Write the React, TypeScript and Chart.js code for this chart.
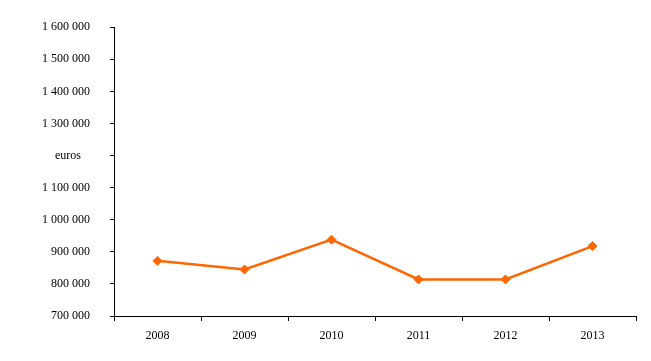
import React, { useEffect, useRef } from "react";
import { Chart, registerables } from "chart.js";

Chart.register(...registerables);

const years = ["2008", "2009", "2010", "2011", "2012", "2013"];
const amounts = [872000, 845000, 938000, 814000, 814000, 918000];
const yMin = 700000;
const yMax = 1600000;
const yStep = 100000;
const unitTickValue = 1200000;
const unitLabel = "euros";

function fmt(v: number): string {
  return String(Math.round(v)).replace(/\B(?=(\d{3})+(?!\d))/g, " ");
}

export default function App() {
  const ref = useRef<HTMLCanvasElement | null>(null);
  useEffect(() => {
    if (!ref.current) return;
    const font = { family: "'Liberation Serif', 'Times New Roman', serif", size: 12 };
    const chart = new Chart(ref.current, {
      type: "line",
      data: {
        labels: years,
        datasets: [
          {
            data: amounts,
            borderColor: "#FF6600",
            backgroundColor: "#FF6600",
            borderWidth: 2.5,
            pointStyle: "rectRot",
            pointRadius: 4.5,
            pointBorderWidth: 1,
            tension: 0,
          },
        ],
      },
      options: {
        animation: false,
        responsive: false,
        maintainAspectRatio: false,
        layout: { padding: { top: 26, right: 15, left: 0, bottom: 0 } },
        plugins: { legend: { display: false }, tooltip: { enabled: false } },
        scales: {
          x: {
            offset: true,
            grid: { offset: true, drawOnChartArea: false, tickLength: 5, color: "#000" },
            border: { color: "#000", width: 1 },
            ticks: { color: "#000", font, padding: 8 },
            afterFit: (s: any) => {
              s.height = 45;
            },
          },
          y: {
            min: yMin,
            max: yMax,
            grid: { drawOnChartArea: false, tickLength: 4, color: "#000" },
            border: { color: "#000", width: 1 },
            ticks: {
              stepSize: yStep,
              color: "#000",
              font,
              padding: 20,
              callback: (v: any) => (Number(v) === unitTickValue ? unitLabel + "   " : fmt(Number(v))),
            },
            afterFit: (s: any) => {
              s.width = 114;
            },
          },
        },
      },
    });
    return () => chart.destroy();
  }, []);
  return (
    <div style={{ position: "fixed", left: 0, top: 0, width: 651, height: 361, background: "#fff" }}>
      <canvas ref={ref} width={651} height={361} style={{ width: 651, height: 361 }} />
    </div>
  );
}
